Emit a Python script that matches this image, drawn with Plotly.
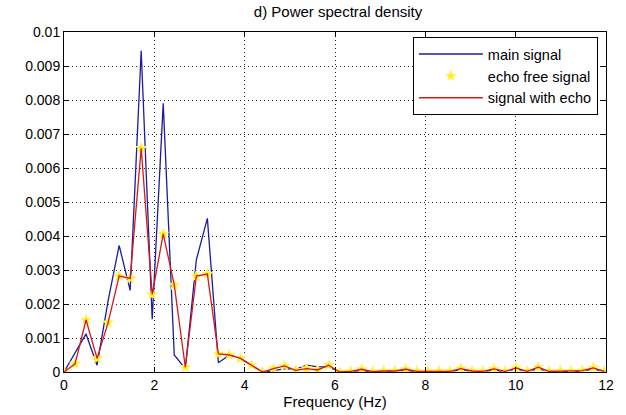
import plotly.graph_objects as go

freq = [0.000, 0.244, 0.488, 0.732, 0.977, 1.221, 1.465, 1.709, 1.953, 2.197,
        2.441, 2.686, 2.930, 3.174, 3.418, 3.662, 3.906, 4.150, 4.395, 4.639,
        4.883, 5.127, 5.371, 5.615, 5.859, 6.104, 6.348, 6.592, 6.836, 7.080,
        7.324, 7.568, 7.813, 8.057, 8.301, 8.545, 8.789, 9.033, 9.277, 9.521,
        9.766, 10.010, 10.254, 10.498, 10.742, 10.986, 11.230, 11.475, 11.719, 11.963]

main_signal = [0.0, 0.00055, 0.00112, 0.00020, 0.00210, 0.00372, 0.00240, 0.00945, 0.00155, 0.00790,
               0.00050, 0.00010, 0.00330, 0.00452, 0.00027, 0.00050, 0.00040, 0.00020, 0.00000, 0.00003,
               0.00010, 0.00008, 0.00020, 0.00015, 0.00015, 0.00000, 0.00001, 0.00004, 0.00001, 0.00002,
               0.00002, 0.00005, 0.00001, 0.00001, 0.00002, 0.00001, 0.00007, 0.00002, 0.00001, 0.00006,
               0.00001, 0.00009, 0.00001, 0.00010, 0.00001, 0.00002, 0.00001, 0.00003, 0.00009, 0.00001]

echo_free = [0.0, 0.00024, 0.00153, 0.00040, 0.00145, 0.00282, 0.00275, 0.00658, 0.00228, 0.00406,
             0.00256, 0.00014, 0.00282, 0.00288, 0.00053, 0.00050, 0.00040, 0.00020, 0.00000, 0.00010,
             0.00018, 0.00005, 0.00010, 0.00006, 0.00020, 0.00000, 0.00002, 0.00008, 0.00001, 0.00003,
             0.00003, 0.00008, 0.00002, 0.00002, 0.00003, 0.00002, 0.00010, 0.00003, 0.00002, 0.00009,
             0.00002, 0.00012, 0.00002, 0.00014, 0.00002, 0.00003, 0.00002, 0.00004, 0.00012, 0.00002]

with_echo = list(echo_free)

x_ticks = [0, 2, 4, 6, 8, 10, 12]
y_ticks = [0, 0.001, 0.002, 0.003, 0.004, 0.005, 0.006, 0.007, 0.008, 0.009, 0.01]
y_tick_text = ["0", "0.001", "0.002", "0.003", "0.004", "0.005", "0.006", "0.007", "0.008", "0.009", "0.01"]

FONT = "Liberation Sans, Arial, sans-serif"

fig = go.Figure()
fig.add_trace(go.Scatter(x=freq, y=main_signal, mode="lines", name="main signal",
                         line=dict(color="#1c1c9c", width=1.3)))
fig.add_trace(go.Scatter(x=freq, y=echo_free, mode="markers", name="echo free signal",
                         marker=dict(symbol="star", size=8, color="#ffee00",
                                     line=dict(color="#fff27a", width=1))))
fig.add_trace(go.Scatter(x=freq, y=with_echo, mode="lines", name="signal with echo",
                         line=dict(color="#d81818", width=1.3)))

axis_common = dict(showline=True, linecolor="black", linewidth=1, mirror="ticks",
                   ticks="inside", ticklen=5, tickcolor="black",
                   showgrid=True, gridcolor="#222222", gridwidth=1, griddash="1px,3px",
                   zeroline=False, tickfont=dict(family=FONT, size=14, color="black"))

fig.update_xaxes(range=[0, 12], tickvals=x_ticks, ticktext=[str(t) for t in x_ticks],
                 title=dict(text="Frequency (Hz)", font=dict(family=FONT, size=15, color="black"), standoff=0),
                 **axis_common)
fig.update_yaxes(range=[0, 0.01], tickvals=y_ticks, ticktext=y_tick_text, **axis_common)

fig.update_layout(
    width=626, height=415,
    margin=dict(l=64, r=14, t=32, b=42),
    paper_bgcolor="white", plot_bgcolor="white",
    title=dict(text="d) Power spectral density", x=0.54, xanchor="center", y=0.985, yanchor="top",
               font=dict(family=FONT, size=15, color="black")),
    legend=dict(x=0.985, y=0.985, xanchor="right", yanchor="top",
                bgcolor="white", bordercolor="black", borderwidth=1,
                font=dict(family=FONT, size=14.5, color="black"),
                tracegroupgap=0, itemwidth=64),
    showlegend=True,
)

fig.write_html("out.html")
